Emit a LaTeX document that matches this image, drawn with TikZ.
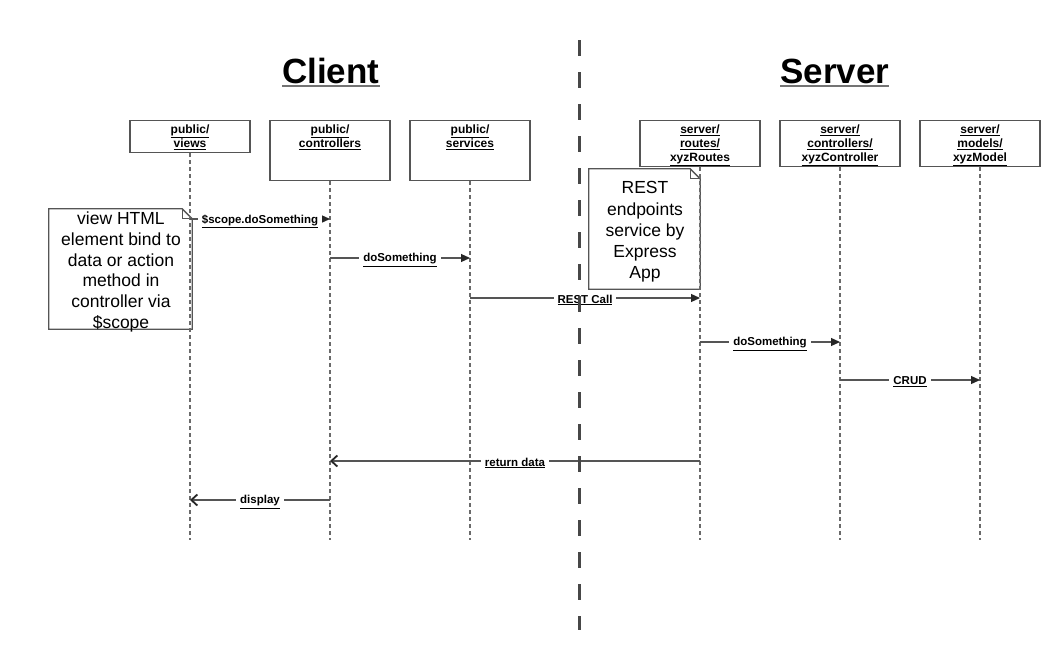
\documentclass[tikz,border=0pt]{standalone}
\usepackage{fontspec}
\setmainfont{Liberation Sans}
\usepackage{xcolor}
\usetikzlibrary{
    arrows.meta,
    positioning,
    calc
}

\definecolor{linegray}{HTML}{555555}
\definecolor{lifegray}{HTML}{6A6A6A}

\tikzset{
    box/.style={draw=linegray, line width=1.3pt, minimum width=120pt, anchor=north, inner sep=0pt},
    boxtext/.style={anchor=north, align=center, inner sep=0pt, yshift=-4.5pt,
        font=\bfseries\fontsize{12}{14}\selectfont},
    lifeline/.style={draw=lifegray, line width=1.1pt, dash pattern=on 4pt off 3pt},
    call/.style={draw=linegray, line width=1.2pt, -{Triangle[length=9pt,width=8pt,color=black!85]}},
    reply/.style={draw=linegray, line width=1.2pt, -{Straight Barb[length=6pt,width=11pt,line width=1.8pt,color=black!85]}},
    msg/.style={fill=white, inner xsep=4pt, inner ysep=1pt, yshift=-2pt,
        font=\bfseries\fontsize{11.5}{13}\selectfont},
    note/.style={fill=white, inner sep=0pt},
    notetext/.style={align=center, inner sep=0pt,
        font=\fontsize{17.5}{20.8}\selectfont},
    title/.style={anchor=base west, inner sep=0pt, font=\bfseries\fontsize{35}{40}\selectfont},
    titleline/.style={draw=black!55, line width=2pt},
    divider/.style={draw=black!72, line width=3pt, dash pattern=on 16pt off 16pt}
}

\newcommand\dogear[1]{%
    \draw[linegray, line width=1.3pt] (#1.south west) -- (#1.north west)
        -- ([xshift=-10pt]#1.north east) -- ([yshift=-10pt]#1.north east)
        -- (#1.south east) -- cycle;
    \draw[linegray, line width=1pt] ([xshift=-10pt]#1.north east)
        -- ([xshift=-10pt,yshift=-10pt]#1.north east) -- ([yshift=-10pt]#1.north east);
}

\begin{document}
\begin{tikzpicture}[x=1pt, y=-1pt]
                \useasboundingbox[fill=white] (0,0) rectangle (1062,651);

                \node[title] (client) at (282,83) {Client\hspace{11pt}};
                \node[title] (server) at (780,83) {Server};
                \draw[titleline] ([yshift=-3pt]client.base west) -- ([yshift=-3pt]client.base east);
                \draw[titleline] ([yshift=-3pt]server.base west) -- ([yshift=-3pt]server.base east);

                \node[box, minimum height=32pt] (views) at (190,120) {};
                \node[box, minimum height=60pt] (ctrl) at (330,120) {};
                \node[box, minimum height=60pt] (svc) at (470,120) {};
                \node[box, minimum height=46pt] (routes) at (700,120) {};
                \node[box, minimum height=46pt] (sctrl) at (840,120) {};
                \node[box, minimum height=46pt] (model) at (980,120) {};

                \node[boxtext] (views-t) at (views.north) {\underline{public/}\\\underline{views}};
                \node[boxtext] (ctrl-t) at (ctrl.north) {\underline{public/}\\\underline{controllers}};
                \node[boxtext] (svc-t) at (svc.north) {\underline{public/}\\\underline{services}};
                \node[boxtext] (routes-t) at (routes.north) {\underline{server/}\\\underline{routes/}\\\underline{xyzRoutes}};
                \node[boxtext] (sctrl-t) at (sctrl.north) {\underline{server/}\\\underline{controllers/}\\\underline{xyzController}};
                \node[boxtext] (model-t) at (model.north) {\underline{server/}\\\underline{models/}\\\underline{xyzModel}};

                \node[note, minimum width=143pt, minimum height=120pt] (note1) at (120.5,269) {};
                \dogear{note1}
                \node[notetext] (note1-t) at (121,272)
                    {view HTML\\element bind to\\data or action\\method in\\controller via\\\$scope};
                \node[note, minimum width=111pt, minimum height=120pt] (note2) at (644.5,229) {};
                \dogear{note2}
                \node[notetext, font=\fontsize{17.5}{21.2}\selectfont] (note2-t) at (645,232)
                    {REST\\endpoints\\service by\\Express\\App};

                \coordinate (bottom) at (0,540);
                \foreach \n in {views, ctrl, svc, routes, sctrl, model}{
                    \draw[lifeline] (\n.south) -- (\n |- bottom);
                }

                \coordinate (m1) at (0,219);
                \coordinate (m2) at (0,258);
                \coordinate (m3) at (0,298);
                \coordinate (m4) at (0,342);
                \coordinate (m5) at (0,380);
                \coordinate (m6) at (0,461);
                \coordinate (m7) at (0,500);

                \draw[call] (views |- m1) -- node[msg] {\underline{\$scope.doSomething}} (ctrl |- m1);
                \draw[call] (ctrl |- m2) -- node[msg] {\underline{doSomething}} (svc |- m2);
                \draw[call] (svc |- m3) -- node[msg] {\underline{REST Call}} (routes |- m3);
                \draw[call] (routes |- m4) -- node[msg] {\underline{doSomething}} (sctrl |- m4);
                \draw[call] (sctrl |- m5) -- node[msg] {\underline{CRUD}} (model |- m5);
                \draw[reply] (routes |- m6) -- node[msg] {\underline{return data}} (ctrl |- m6);
                \draw[reply] (ctrl |- m7) -- node[msg] {\underline{display}} (views |- m7);

                \draw[divider] (579,40) -- (579,630);
\end{tikzpicture}
\end{document}
